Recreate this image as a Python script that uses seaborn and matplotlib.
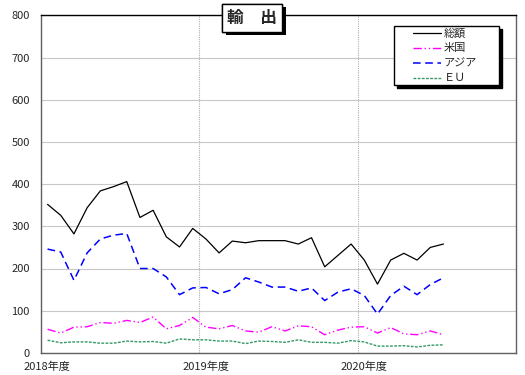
import numpy as np
import pandas as pd
import matplotlib
matplotlib.use("Agg")
import matplotlib.pyplot as plt
import matplotlib.patheffects as pe
from matplotlib.patches import Rectangle
from matplotlib.transforms import ScaledTranslation
import seaborn as sns

# 2018年4月〜2020年10月 の月次値
total = [352, 326, 282, 344, 384, 394, 406, 321, 338, 275, 251, 295,
         270, 237, 265, 261, 266, 266, 266, 258, 273, 204, 231, 258,
         220, 163, 220, 236, 220, 250, 258]
usa = [56, 47, 61, 62, 72, 70, 77, 72, 85, 57, 65, 84,
       61, 57, 65, 52, 49, 62, 52, 64, 62, 43, 54, 61,
       62, 47, 60, 45, 43, 52, 43]
asia = [246, 239, 172, 237, 270, 279, 283, 200, 200, 180, 138, 154,
        155, 140, 150, 178, 168, 156, 156, 146, 154, 124, 144, 152,
        136, 92, 136, 158, 138, 162, 178]
eu = [30, 24, 26, 26, 23, 23, 28, 26, 27, 23, 33, 31,
      31, 28, 28, 22, 28, 27, 25, 31, 25, 25, 23, 29,
      26, 16, 16, 17, 14, 18, 19]
series_names = ["総額", "米国", "アジア", "ＥＵ"]
year_labels = ["2018年度", "2019年度", "2020年度"]

months = np.arange(len(total)) + 0.5
df = pd.DataFrame({"month": months, "総額": total, "米国": usa,
                   "アジア": asia, "ＥＵ": eu})
long = df.melt(id_vars="month", var_name="系列", value_name="値")

sns.set_style("white")
plt.rcParams["font.family"] = ["Noto Sans CJK JP", "DejaVu Sans"]

fig = plt.figure(figsize=(5.25, 3.75), dpi=100)
ax = fig.add_axes([0.078, 0.059, 0.905, 0.90])

palette = {"総額": "#000000", "米国": "#ff00ff", "アジア": "#0000ff", "ＥＵ": "#339966"}
dashes = {"総額": "", "米国": (6, 2, 1, 2, 1, 2), "アジア": (5, 3), "ＥＵ": (2, 1)}
widths = {"総額": 0.9, "米国": 1.0, "アジア": 1.1, "ＥＵ": 1.0}

for name in series_names:
    sub = long[long["系列"] == name]
    sns.lineplot(data=sub, x="month", y="値", color=palette[name],
                 linewidth=widths[name], label=name, ax=ax)
    if dashes[name]:
        ax.lines[-1].set_dashes(dashes[name])

ax.set_xlim(0, 36)
ax.set_ylim(0, 800)
ax.set_yticks(range(0, 801, 100))
ax.set_xticks([0, 12, 24])
ax.set_xticklabels(year_labels, ha="left")
ax.tick_params(axis="x", direction="in", length=4, pad=6, labelsize=8)
ax.tick_params(axis="y", length=0, pad=8, labelsize=8)
for lbl in ax.get_xticklabels():
    lbl.set_transform(lbl.get_transform() + ScaledTranslation(-17 / 100, 0, fig.dpi_scale_trans))
ax.set_xlabel("")
ax.set_ylabel("")

ax.grid(True, axis="y", color="#c8c8c8", linewidth=0.8)
ax.grid(True, axis="x", color="#b0b0b0", linewidth=0.8, linestyle=(0, (1, 1)))
for s in ax.spines.values():
    s.set_color("#606060")
    s.set_linewidth(1.0)
ax.spines["top"].set_color("#000000")

# 凡例の枠（影付き）
fx0, fy0, fw, fh = 394 / 525, 1 - 85 / 375, 105 / 525, 59.5 / 375
shadow = Rectangle((fx0 + 3 / 525, fy0 - 3 / 375), fw, fh, transform=fig.transFigure,
                   facecolor="black", edgecolor="black", zorder=4, clip_on=False)
frame = Rectangle((fx0, fy0), fw, fh, transform=fig.transFigure,
                  facecolor="white", edgecolor="black", linewidth=1.0, zorder=4.5, clip_on=False)
ax.add_artist(shadow)
ax.add_artist(frame)

leg = ax.legend(loc="upper left", bbox_to_anchor=(413 / 525, 1 - 28 / 375),
                bbox_transform=fig.transFigure, fontsize=8, frameon=False,
                handlelength=2.5, handletextpad=0.3, labelspacing=0.45,
                borderpad=0, borderaxespad=0)
leg.set_zorder(6)

t = ax.text(0.445, 0.9935, "輸　出", transform=ax.transAxes, ha="center", va="center",
            fontsize=12, fontweight="bold",
            bbox=dict(boxstyle="square,pad=0.3", facecolor="white", edgecolor="black", linewidth=1.0))
t.get_bbox_patch().set_path_effects([
    pe.withSimplePatchShadow(offset=(2.5, -2.5), shadow_rgbFace="black", alpha=1.0),
    pe.Normal()])

fig.savefig("out.png", dpi=100)
